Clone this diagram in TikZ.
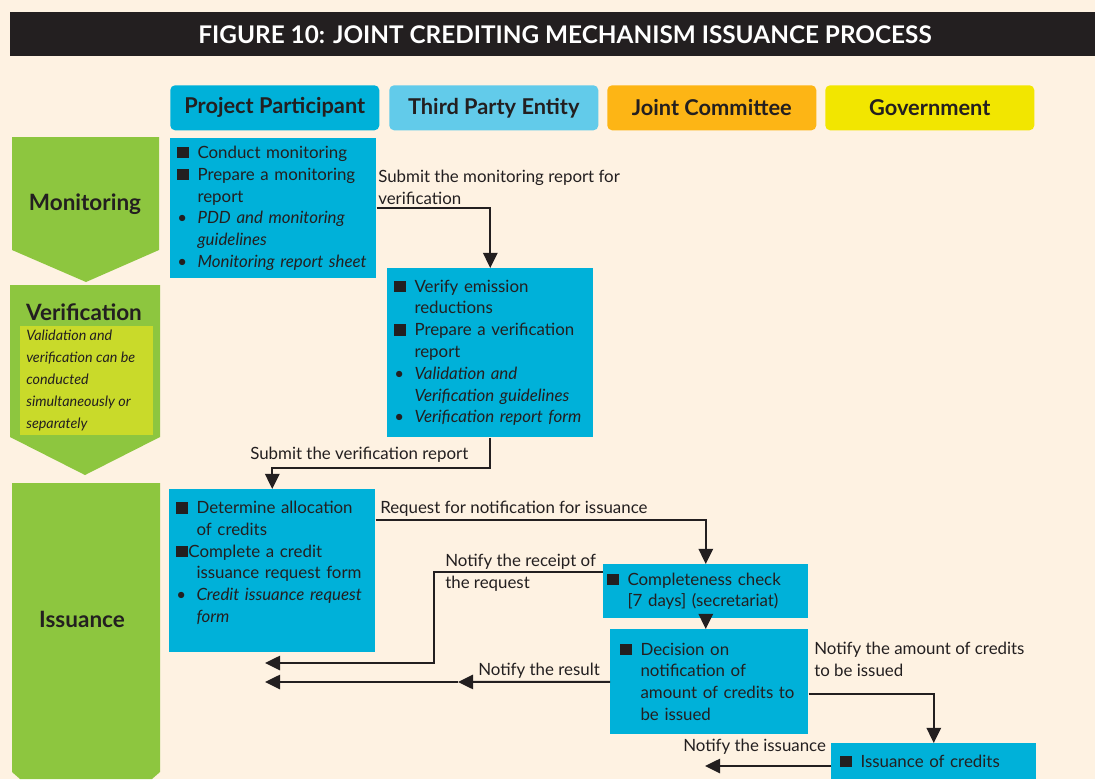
\documentclass[tikz,border=0pt]{standalone}
\usepackage{fontspec}
\setmainfont{Lato}
\usepackage{xcolor}
\usetikzlibrary{positioning,arrows.meta,calc}

\definecolor{bgcream}{HTML}{FEF2E2}
\definecolor{barblack}{HTML}{231F20}
\definecolor{ppcyan}{HTML}{00B1D9}
\definecolor{tpblue}{HTML}{62CBEA}
\definecolor{jcorange}{HTML}{FDB515}
\definecolor{govyellow}{HTML}{F2E600}
\definecolor{stagegreen}{HTML}{8DC63F}
\definecolor{notegreen}{HTML}{C9DA2A}

\newcommand{\sqb}{\makebox[1.2em][l]{\rule{0.68em}{0.68em}}}
\newcommand{\sqn}{\makebox[0.72em][l]{\rule{0.68em}{0.68em}}}
\newcommand{\dotb}{\makebox[1.2em][l]{\textbullet}}
\newcommand{\ind}{\hspace*{1.2em}}

\tikzset{
  colhead/.style={rounded corners=1.2mm, minimum width=52.25mm, minimum height=11.25mm, anchor=north west,
    font=\fontsize{15.5}{18}\selectfont\bfseries, text=barblack},
  ppbox/.style={fill=ppcyan, anchor=north west, align=left, inner xsep=1.75mm, inner ysep=0mm,
    font=\fontsize{12}{15.5}\selectfont, text=barblack},
  flowlabel/.style={anchor=west, align=left, inner sep=0pt, font=\fontsize{12}{15.5}\selectfont, text=barblack},
  stagelabel/.style={font=\fontsize{16}{19}\selectfont\bfseries, text=barblack},
  arr/.style={-{Triangle[length=3.8mm,width=3.6mm]}, line width=0.5mm, draw=barblack}
}

\begin{document}
\begin{tikzpicture}[x=0.25mm, y=-0.25mm]
    \fill[bgcream] (0,0) rectangle (1095,779);
    \useasboundingbox (0,0) rectangle (1095,779);

    % title bar
    \fill[barblack] (10,12) rectangle (1095,56);
    \node[text=white, font=\fontsize{17.3}{19}\selectfont\bfseries] (title) at (565,35) {FIGURE 10: JOINT CREDITING MECHANISM ISSUANCE PROCESS};

    % column headers
    \node[colhead, fill=ppcyan] (hpp) at (170,85) {Project Participant};
    \node[colhead, fill=tpblue] (htp) at (389,85) {Third Party Entity};
    \node[colhead, fill=jcorange] (hjc) at (607,85) {Joint Committee};
    \node[colhead, fill=govyellow] (hgov) at (825,85) {Government};

    % stages
    \fill[stagegreen] (12,137) -- (159,137) -- (159,250) -- (86,282) -- (12,250) -- cycle;
    \node[stagelabel] (smon) at (85,204) {Monitoring};
    \fill[stagegreen] (10,285) -- (160,285) -- (160,437) -- (85,475) -- (10,437) -- cycle;
    \node[stagelabel] (sver) at (84,312) {Verification};
    \fill[notegreen] (20,326) rectangle (153,435);
    \node[anchor=north west, align=left, inner sep=0pt, text=barblack,
      font=\fontsize{10.2}{15.6}\selectfont\itshape] (snote) at (26,330)
      {Validation and\\verification can be\\conducted\\simultaneously or\\separately};
    \fill[stagegreen] (12,483) -- (160,483) -- (160,772) -- (152,779) -- (20,779) -- (12,772) -- cycle;
    \node[stagelabel] (siss) at (82,619) {Issuance};

    % boxes
    \node[ppbox, minimum width=51.5mm, minimum height=35mm, text width=48mm] (mon) at (170,138)
      {\sqb Conduct monitoring\\ \sqb Prepare a monitoring\\ \ind report\\
       \dotb\textit{PDD and monitoring}\\ \ind\textit{guidelines}\\ \dotb\textit{Monitoring report sheet}};
    \node[ppbox, minimum width=51.5mm, minimum height=42.25mm, text width=48mm] (ver) at (387,268)
      {\sqb Verify emission\\ \ind reductions\\ \sqb Prepare a verification\\ \ind report\\
       \dotb\textit{Validation and}\\ \ind\textit{Verification guidelines}\\ \dotb\textit{Verification report form}};
    \node[ppbox, minimum width=51.5mm, minimum height=40.75mm, text width=48mm] (ipp) at (169,489)
      {\sqb Determine allocation\\ \ind of credits\\ \sqn Complete a credit\\ \ind issuance request form\\
       \dotb\textit{Credit issuance request}\\ \ind\textit{form}\\[-2.7pt]\mbox{}};
    \node[ppbox, inner xsep=1mm, minimum width=51.25mm, minimum height=13.5mm, text width=49.25mm] (chk) at (603,564)
      {\sqb Completeness check\\ \ind [7 days] (secretariat)};
    \node[ppbox, inner xsep=2.5mm, minimum width=49.5mm, minimum height=26.25mm, text width=44.5mm] (dec) at (610,629)
      {\sqb Decision on\\ \ind notification of\\ \ind amount of credits to\\ \ind be issued};
    \node[ppbox, inner xsep=2.25mm, minimum width=51.25mm, minimum height=9mm, text width=46.75mm] (cred) at (831,743)
      {\sqb Issuance of credits};

    % connectors
    \coordinate (rcvend) at (265,663);
    \coordinate (resmid) at (458,682);
    \coordinate (resend) at (265,682);
    \coordinate (issend) at (705,766);

    \draw[arr] (mon.east) -| (ver.north);
    \draw[arr] (ver.south) -- ++(0,30) -| (ipp.north);
    \draw[arr] (ipp.north east) ++(0,31) -| (chk.north);
    \draw[arr] (chk.north west) ++(0,8) -- ++(-169,0) |- (rcvend);
    \draw[arr] (dec.west) -- (resmid);
    \draw[arr] (resmid) -- (resend);
    \draw[arr] (chk.south) -- (chk.south |- dec.north);
    \draw[arr] (dec.north east) ++(0,65) -| (cred.north);
    \draw[arr] (cred.west |- issend) -- (issend);

    % connector labels
    \node[flowlabel] (lsubmon) at (378,187) {Submit the monitoring report for\\verification};
    \node[flowlabel] (lsubver) at (250,455) {Submit the verification report};
    \node[flowlabel] (lreq) at (380,509) {Request for notification for issuance};
    \node[flowlabel] (lrcv) at (445,573) {Notify the receipt of\\the request};
    \node[flowlabel] (lres) at (478,671) {Notify the result};
    \node[flowlabel] (lamt) at (814,659) {Notify the amount of credits\\to be issued};
    \node[flowlabel] (liss) at (683,747) {Notify the issuance};
\end{tikzpicture}
\end{document}
